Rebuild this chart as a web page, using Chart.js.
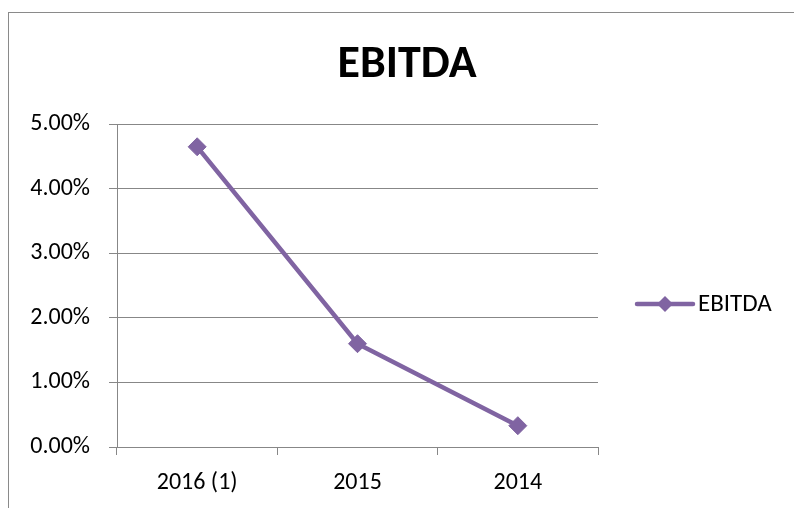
<!DOCTYPE html>
<html>
<head>
<meta charset="utf-8">
<title>EBITDA</title>
<script src="https://cdn.jsdelivr.net/npm/chart.js@4.4.1/dist/chart.umd.min.js"></script>
<style>
    html, body { margin: 0; padding: 0; background: #fff; overflow: hidden; }
    #frame {
        position: absolute; left: 8px; top: 12px; width: 900px; height: 600px;
        border-left: 1px solid #8a8a8a; border-top: 1px solid #8a8a8a;
    }
    #ebitda-chart { position: absolute; left: 0; top: 0; }
</style>
</head>
<body>
<div id="frame"></div>
<canvas id="ebitda-chart" width="794" height="508"></canvas>
<script>
// Données du graphique (en %)
const categories = ['2016 (1)', '2015', '2014'];
const ebitdaValues = [4.65, 1.60, 0.33];
const seriesName = 'EBITDA';
const yTicks = [0, 1, 2, 3, 4, 5];

const fontFamily = "Carlito, Calibri, 'Liberation Sans', sans-serif";
const purple = '#8064A2';
const gridGray = '#878787';

// Légende à droite, dessinée à la main (position façon Excel)
const sideLegend = {
    id: 'sideLegend',
    afterDraw(chart) {
        const ctx = chart.ctx;
        const ds = chart.data.datasets[0];
        const x = 637, y = 304;
        ctx.save();
        ctx.strokeStyle = ds.borderColor;
        ctx.lineWidth = 4.5;
        ctx.lineCap = 'round';
        ctx.beginPath();
        ctx.moveTo(x, y);
        ctx.lineTo(x + 56, y);
        ctx.stroke();
        // losange
        ctx.fillStyle = ds.pointBackgroundColor;
        ctx.beginPath();
        ctx.moveTo(x + 28, y - 8);
        ctx.lineTo(x + 36, y);
        ctx.lineTo(x + 28, y + 8);
        ctx.lineTo(x + 20, y);
        ctx.closePath();
        ctx.fill();
        ctx.fillStyle = '#000';
        ctx.font = '25px ' + fontFamily;
        ctx.textBaseline = 'middle';
        ctx.fillText(ds.label, x + 61, y + 1);
        ctx.restore();
    }
};

const ctx = document.getElementById('ebitda-chart').getContext('2d');
new Chart(ctx, {
    type: 'line',
    data: {
        labels: categories,
        datasets: [{
            label: seriesName,
            data: ebitdaValues,
            borderColor: purple,
            backgroundColor: purple,
            borderWidth: 4.5,
            tension: 0,
            pointStyle: 'rectRot',
            pointRadius: 9,
            pointBorderWidth: 1,
            pointBackgroundColor: purple,
            pointBorderColor: purple,
            fill: false
        }]
    },
    options: {
        responsive: false,
        animation: false,
        devicePixelRatio: 1,
        layout: {
            padding: { top: 0, left: 20, right: 0, bottom: 0 }
        },
        scales: {
            x: {
                offset: true,
                grid: {
                    offset: true,
                    drawOnChartArea: false,
                    drawTicks: true,
                    tickLength: 8,
                    color: gridGray
                },
                border: { color: gridGray, width: 1 },
                ticks: {
                    color: '#000',
                    padding: 16,
                    maxRotation: 0,
                    font: { family: fontFamily, size: 24, lineHeight: 1 }
                },
                afterFit: function(scale) {
                    scale.height = 61;
                }
            },
            y: {
                min: 0,
                max: yTicks[yTicks.length - 1],
                afterBuildTicks: function(scale) {
                    scale.ticks = yTicks.map(v => ({ value: v }));
                },
                grid: {
                    color: gridGray,
                    drawTicks: true,
                    tickLength: 8
                },
                border: { color: gridGray, width: 1 },
                ticks: {
                    color: '#000',
                    padding: 19,
                    font: { family: fontFamily, size: 24 },
                    callback: function(value) {
                        return value.toFixed(2) + '%';
                    }
                },
                afterFit: function(scale) {
                    scale.width = 97;
                }
            },
            // axe fantôme à droite : réserve la place de la légende
            legendSpace: {
                position: 'right',
                display: true,
                grid: { display: false },
                border: { display: false },
                ticks: { display: false },
                afterFit: function(scale) {
                    scale.width = 196;
                }
            }
        },
        plugins: {
            legend: { display: false },
            tooltip: { enabled: false },
            title: {
                display: true,
                text: 'EBITDA',
                color: '#000',
                font: { family: fontFamily, size: 46, weight: 'bold' },
                padding: { top: 38, bottom: 31 }
            }
        }
    },
    plugins: [sideLegend]
});
</script>
</body>
</html>
